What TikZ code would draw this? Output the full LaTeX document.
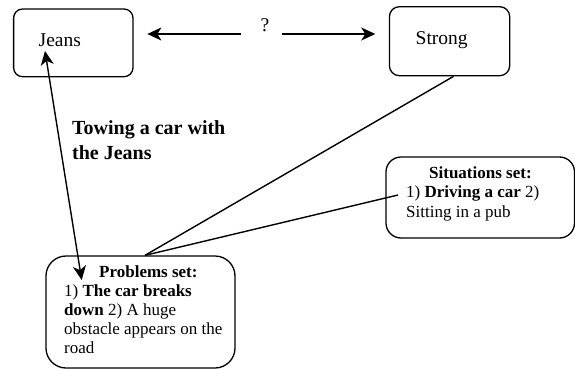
\documentclass[tikz,border=0pt]{standalone}
\usepackage{fontspec}
\setmainfont{Liberation Serif}
\usetikzlibrary{arrows.meta}
\begin{document}
\begin{tikzpicture}[x=1pt,y=-1pt,
  >={Stealth[length=14pt,width=13pt,inset=4pt]},
  box/.style={draw, line width=1.3pt, inner sep=0pt},
  link/.style={line width=1.4pt},
  word/.style={inner sep=0pt, font=\fontsize{19.5}{22}\selectfont},
  body/.style={inner sep=0pt, align=left, font=\fontsize{17}{19}\selectfont},
  label/.style={inner sep=0pt, align=left, font=\fontsize{20}{25}\selectfont\bfseries}]
\useasboundingbox (0,0) rectangle (575,369);

% concept boxes
\node[box, rounded corners=9pt, minimum width=119.4pt, minimum height=67.7pt]
  (jeans) at (73.3,42.85) {};
\node[box, rounded corners=10pt, minimum width=120.3pt, minimum height=69pt]
  (strong) at (449.55,41.2) {};
\node[box, rounded corners=20pt, minimum width=189pt, minimum height=112pt]
  (problems) at (140.5,312) {};
\node[box, rounded corners=15pt, minimum width=188.5pt, minimum height=81pt]
  (situations) at (480.25,197.5) {};

% box texts (multi-line nodes sit on the baseline of their last line)
\node[word, anchor=base west] (jeansT) at (38.5,46.7) {Jeans};
\node[word, anchor=base west] (strongT) at (415.5,45) {Strong};
\node[body, anchor=base west] (problemsT) at (64,353)
  {\hspace*{35pt}\textbf{Problems set:}\\
   1) \textbf{The car breaks}\\
   \textbf{down} 2) A huge\\
   obstacle appears on the\\
   road};
\node[body, anchor=base west, font=\fontsize{17}{19.5}\selectfont] (situationsT) at (406,217.3)
  {\hspace*{23pt}\textbf{Situations set:}\\
   1) \textbf{Driving a car} 2)\\
   Sitting in a pub};

% relation between the two concepts
\node[word, anchor=base] (q) at (265,32) {?};
\coordinate (qL) at (240.9,34);
\coordinate (qR) at (281.6,34);
\draw[link, ->, shorten >=13.7pt] (qL) -- (jeans.east |- qL);
\draw[link, ->, shorten >=13.5pt] (qR) -- (strong.west |- qR);

% towing link
\coordinate (jTip) at (45,51);
\coordinate (pTip) at (81.7,280);
\draw[link, <->] (jTip) -- (pTip);
\node[label, anchor=base west] (towing) at (72,159) {Towing a car with\\the Jeans};

% links into the problems set
\coordinate (sIn) at (398,195);
\draw[link] ([xshift=4pt]strong.south) -- ([xshift=4.5pt]problems.north);
\draw[link] (sIn) -- ([xshift=4.5pt]problems.north);
\end{tikzpicture}
\end{document}
